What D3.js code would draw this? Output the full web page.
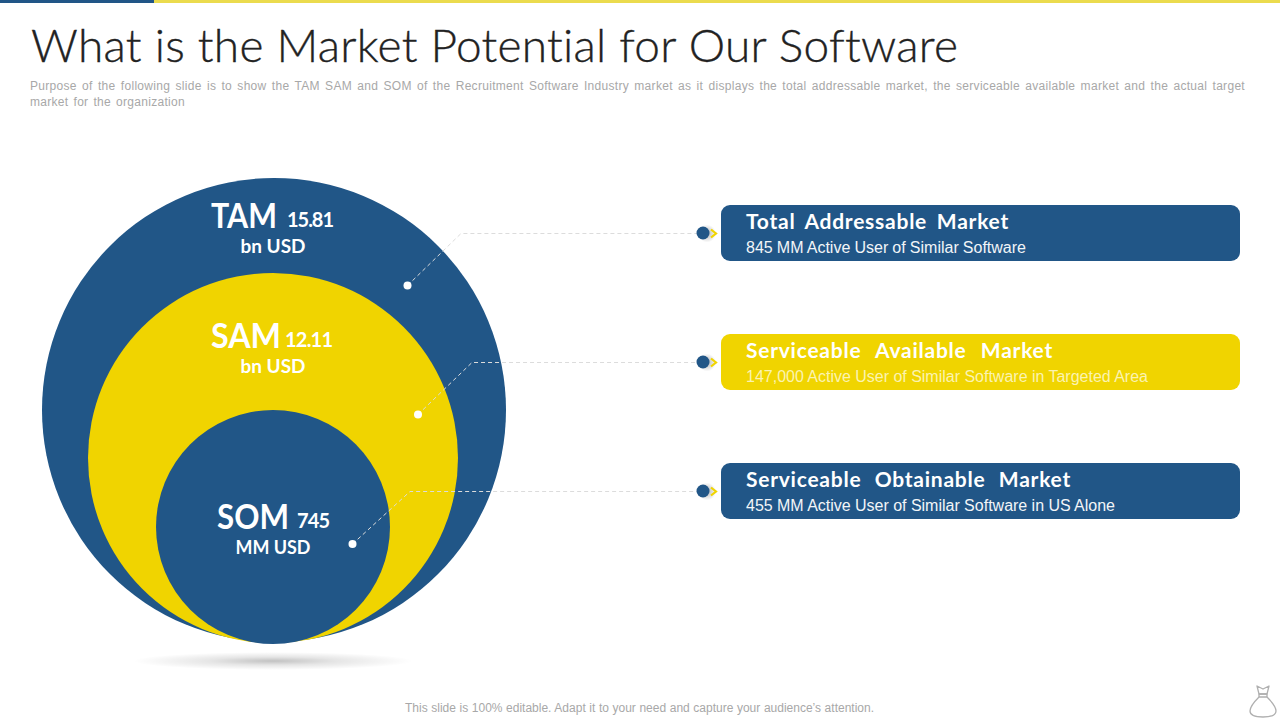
<!DOCTYPE html>
<html><head><meta charset="utf-8">
<script src="https://cdnjs.cloudflare.com/ajax/libs/d3/7.8.5/d3.min.js"></script>
<style>html,body{margin:0;padding:0;background:#fff;overflow:hidden}svg{display:block}text{font-variant-ligatures:none}</style>
</head><body>
<svg id="c" width="1280" height="720"></svg>
<script>
const titleText = "What is the Market Potential for Our Software";
const subtitleLines = ["Purpose of the following slide is to show the TAM SAM and SOM of the Recruitment Software Industry market as it displays the total addressable market, the serviceable available market and the actual target","market for the organization"];
const footerText = "This slide is 100% editable. Adapt it to your need and capture your audience\u2019s attention.";
const categories = ["TAM","SAM","SOM"];
const values = ["15.81","12.11","745"];
const units = ["bn USD","bn USD","MM USD"];
const cardTitles = ["Total Addressable Market","Serviceable Available Market","Serviceable Obtainable Market"];
const cardTexts = ["845 MM Active User of Similar Software","147,000 Active User of Similar Software in Targeted Area","455 MM Active User of Similar Software in US Alone"];

const BLUE="#215687", YELLOW="#F0D400", GREY="#a8a8a8";
const svg=d3.select("#c");
const r=d3.scaleOrdinal().domain(categories).range([232,185,117]);
const cx=d3.scaleOrdinal().domain(categories).range([274,273,273]);
const bottom=644;
const cy=c=>c==="TAM"?410:bottom-r(c)-(c==="SAM"?1:0);
const fill=d3.scaleOrdinal().domain(categories).range([BLUE,YELLOW,BLUE]);
const cardY=d3.scalePoint().domain(cardTitles).range([205,463]);
const cardFill=d3.scaleOrdinal().domain(cardTitles).range([BLUE,YELLOW,BLUE]);
const leaderDot=d3.scaleOrdinal().domain(categories).range([[407.5,285.5],[418,414.5],[352.5,544]]);
const leaderKnee=d3.scaleOrdinal().domain(categories).range([461,472,410]);
const labelBase=d3.scaleOrdinal().domain(categories).range([228,348,529]);
const labelX=d3.scaleOrdinal().domain(categories).range([[211,66,287,47],[211,70,285,48],[217,72,297,33]]);
const unitW=d3.scaleOrdinal().domain(categories).range([65,65,75]);

// spread a line to a target width through its word gaps only
function fitWords(sel,width,ls){
  sel.each(function(d,i){
    const t=d3.select(this); const w=typeof width==="function"?width(d,i):width;
    t.attr("letter-spacing",ls||0);
    const n=(t.text().match(/ /g)||[]).length;
    const nat=this.getComputedTextLength();
    if(n) t.attr("word-spacing",(w-nat)/n);
  });
}

const defs=svg.append("defs");
const g=defs.append("radialGradient").attr("id","sh");
g.append("stop").attr("offset","0%").attr("stop-color","#000").attr("stop-opacity",.24);
g.append("stop").attr("offset","45%").attr("stop-color","#000").attr("stop-opacity",.1);
g.append("stop").attr("offset","100%").attr("stop-color","#000").attr("stop-opacity",0);
const g2=defs.append("radialGradient").attr("id","sh2");
g2.append("stop").attr("offset","0%").attr("stop-color","#000").attr("stop-opacity",.3);
g2.append("stop").attr("offset","100%").attr("stop-color","#000").attr("stop-opacity",0);

svg.append("rect").attr("x",0).attr("y",0).attr("width",154).attr("height",3).attr("fill",BLUE);
svg.append("rect").attr("x",154).attr("y",0).attr("width",1126).attr("height",3).attr("fill","#EBDB4E");

svg.append("text").text(titleText).attr("x",31).attr("y",62).attr("font-family","Lato").attr("font-weight",300)
  .attr("font-size",46).attr("fill","#222").attr("stroke","#222").attr("stroke-width",.35)
  .attr("textLength",927).attr("lengthAdjust","spacing");
svg.selectAll(".sub").data(subtitleLines).join("text").attr("class","sub").text(d=>d)
  .attr("x",30).attr("y",(d,i)=>90+i*16).attr("font-family","Liberation Sans").attr("font-size",12)
  .attr("fill",GREY).call(fitWords,(d,i)=>i===0?1215:155,0.3);

svg.append("ellipse").attr("cx",273).attr("cy",661).attr("rx",140).attr("ry",9).attr("fill","url(#sh)");

svg.selectAll(".disc").data(categories).join("circle").attr("class","disc")
  .attr("cx",d=>cx(d)).attr("cy",d=>cy(d)).attr("r",d=>r(d)).attr("fill",d=>fill(d));

const line=d3.line();
const cardList=categories.map((c,i)=>({c,t:cardTitles[i],mid:cardY(cardTitles[i])+28.5}));
svg.selectAll(".lead").data(cardList).join("path").attr("class","lead")
  .attr("d",d=>line([leaderDot(d.c),[leaderKnee(d.c),d.mid],[700,d.mid]]))
  .attr("fill","none").attr("stroke","#dcdcdc").attr("stroke-width",1).attr("stroke-dasharray","4 3");
svg.selectAll(".ldot").data(cardList).join("circle").attr("class","ldot")
  .attr("cx",d=>leaderDot(d.c)[0]).attr("cy",d=>leaderDot(d.c)[1]).attr("r",4).attr("fill","#fff");

svg.selectAll(".nsh").data(cardList).join("circle").attr("class","nsh")
  .attr("cx",707).attr("cy",d=>d.mid).attr("r",9).attr("fill","url(#sh2)");
svg.selectAll(".chev").data(cardList).join("path").attr("class","chev")
  .attr("d",d=>line([[711,d.mid-4],[716,d.mid],[711,d.mid+4]]))
  .attr("fill","none").attr("stroke",YELLOW).attr("stroke-width",2.2);
svg.selectAll(".node").data(cardList).join("circle").attr("class","node")
  .attr("cx",703).attr("cy",d=>d.mid-.5).attr("r",6.5).attr("fill",BLUE);

svg.selectAll(".card").data(cardTitles).join("rect").attr("class","card")
  .attr("x",721).attr("y",d=>cardY(d)).attr("width",519).attr("height",56).attr("rx",9).attr("fill",d=>cardFill(d));
const titleW=[263,307,325], textW=[280,402,369];
svg.selectAll(".ct").data(cardTitles).join("text").attr("class","ct").text(d=>d)
  .attr("x",746).attr("y",d=>cardY(d)+24).attr("font-family","Lato").attr("font-weight",700).attr("font-size",21)
  .attr("fill","#fff").call(fitWords,(d,i)=>titleW[i],0.75);
svg.selectAll(".cs").data(cardTexts).join("text").attr("class","cs").text(d=>d)
  .attr("x",746).attr("y",(d,i)=>cardY(cardTitles[i])+48).attr("font-family","Liberation Sans").attr("font-size",16)
  .attr("fill",(d,i)=>i===1?"#fbf3b0":"#f2f5f8").call(fitWords,(d,i)=>textW[i],0);

categories.forEach((c,i)=>{
  const L=labelX(c), y=labelBase(c);
  svg.append("text").text(c).attr("x",L[0]).attr("y",y).attr("font-family","Lato").attr("font-weight",700)
    .attr("font-size",35).attr("fill","#fff").attr("textLength",L[1]).attr("lengthAdjust","spacingAndGlyphs");
  svg.append("text").text(values[i]).attr("x",L[2]).attr("y",y-1).attr("font-family","Lato").attr("font-weight",700)
    .attr("font-size",20).attr("fill","#fff").attr("textLength",L[3]).attr("lengthAdjust","spacing");
  svg.append("text").text(units[i]).attr("x",273-unitW(c)/2).attr("y",y+25).attr("font-family","Lato").attr("font-weight",700)
    .attr("font-size",19).attr("fill","#fff").attr("textLength",unitW(c)).attr("lengthAdjust","spacingAndGlyphs");
});

svg.append("text").text(footerText).attr("x",405).attr("y",712).attr("font-family","Liberation Sans").attr("font-size",12)
  .attr("fill",GREY).call(fitWords,469,0);

const bag=svg.append("g").attr("fill","none").attr("stroke","#b0b0b0").attr("stroke-width",1.3).attr("stroke-linejoin","round");
bag.append("path").attr("d","M1257 686 L1263 689 L1269 686 L1267 694 L1259 694 Z");
bag.append("path").attr("d","M1259 694 L1267 694 L1267 697 L1259 697 Z");
bag.append("path").attr("d","M1259 697 C1254 702 1250 707 1250 711 C1250 715 1255 717 1263 717 C1271 717 1276 715 1276 711 C1276 707 1272 702 1267 697");
</script>
</body></html>
